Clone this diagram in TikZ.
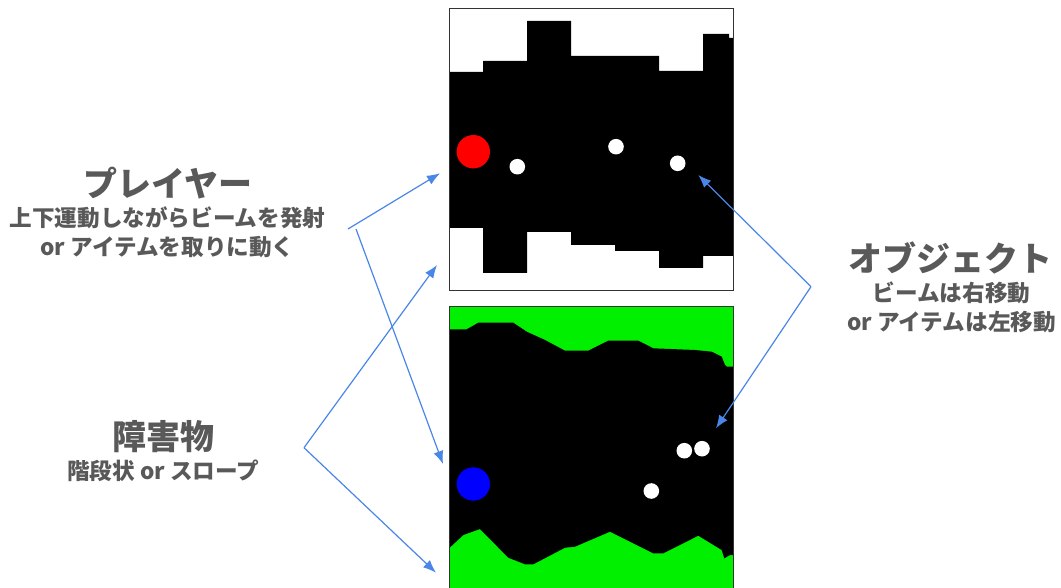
\documentclass[tikz,border=0pt]{standalone}
\usepackage{fontspec}
\setmainfont{Noto Sans CJK JP}
\usetikzlibrary{arrows.meta}
\definecolor{labelgray}{HTML}{595959}
\definecolor{arrowblue}{HTML}{4A86E8}
\definecolor{wallgreen}{HTML}{00F000}
\definecolor{framegray}{HTML}{333333}
\tikzset{
  title/.style={text=labelgray, font=\fontsize{34}{37}\selectfont\bfseries, inner sep=0pt},
  caption/.style={text=labelgray, font=\fontsize{22.6}{28.5}\selectfont\bfseries, align=center, inner sep=0pt},
  pointer/.style={draw=arrowblue, line width=1.2pt, -{Latex[length=13pt,width=10pt]}},
  frame/.style={draw=framegray, line width=1pt},
  shot/.style={fill=white},
}
\begin{document}
\begin{tikzpicture}[x=1pt,y=-1pt]
\useasboundingbox (0,0) rectangle (1061,588);
\clip (0,0) rectangle (1061,588);

% --- upper screen: stepped walls ---
\fill[white] (449,9) rectangle (733,291);
\fill[black] (449,72) -- (483,72) -- (483,61) -- (527,61) -- (527,21) -- (571,21)
  -- (571,56) -- (659,56) -- (659,71) -- (703,71) -- (703,34) -- (729,34) -- (729,38)
  -- (733,38) -- (733,256) -- (703,256) -- (703,268) -- (659,268) -- (659,251)
  -- (615,251) -- (615,245) -- (571,245) -- (571,232) -- (527,232) -- (527,273)
  -- (483,273) -- (483,228) -- (449,228) -- cycle;
\fill[red] (473.3,151.7) circle (16.7);
\fill[shot] (517.3,166.7) circle (7.8);
\fill[shot] (616,146.7) circle (7.8);
\fill[shot] (677.7,163.3) circle (7.8);
\draw[frame] (449,9) rectangle (733,291);

% --- lower screen: sloped walls ---
\fill[wallgreen] (449,307) rectangle (733,600);
\fill[black] (449,329.3) -- (466.7,329.3) -- (478.3,322.7) -- (513.3,322.7)
  -- (526.7,331.7) -- (545,340) -- (565,350.7) -- (588.3,350.7) -- (608.3,340.7)
  -- (638.3,340.7) -- (653.3,348.3) -- (695,350) -- (711.7,351.7) -- (721.7,356.7)
  -- (725,365) -- (726.7,366.7) -- (733,366.7)
  -- (733,555) -- (730,555) -- (724.3,558.3) -- (721.7,550) -- (698.3,535.7)
  -- (663.3,553.3) -- (653.3,553.3) -- (610,531.7) -- (575,546.7) -- (565,547.7)
  -- (533.3,564.3) -- (525,564.3) -- (508.3,557.7) -- (480,529) -- (463.3,535)
  -- (449,548.3) -- cycle;
\fill[blue] (473.3,484) circle (16.7);
\fill[shot] (684.3,450.7) circle (7.8);
\fill[shot] (702,448.7) circle (7.8);
\fill[shot] (651.3,491) circle (7.8);
\draw[frame] (449,307) -- (449,600);
\draw[frame] (449,307) -- (733,307) -- (733,600);

% --- labels ---
\node[title] (playerT) at (168,183) {プレイヤー};
\node[caption] (playerC) at (167.5,232.5) {上下運動しながらビームを発射\\or アイテムを取りに動く};
\node[title] (wallT) at (163,437) {障害物};
\node[caption] (wallC) at (163.3,470.7) {階段状 or スロープ};
\node[title] (objT) at (950,258) {オブジェクト};
\node[caption] (objC) at (951.5,307.5) {ビームは右移動\\or アイテムは左移動};

% --- pointer anchors ---
\coordinate (pA) at (348,229);
\coordinate (pB) at (356,229);
\coordinate (wA) at (304,447.7);
\coordinate (oA) at (811,286.7);
\coordinate (toPlayerTop) at (440,173.3);
\coordinate (toPlayerBot) at (443,464);
\coordinate (toWallTop) at (437,265);
\coordinate (toWallBot) at (436,572.7);
\coordinate (toObjTop) at (698.3,175);
\coordinate (toObjBot) at (716,428.3);

\draw[pointer] (pA) -- (toPlayerTop);
\draw[pointer] (pB) -- (toPlayerBot);
\draw[pointer] (wA) -- (toWallTop);
\draw[pointer] (wA) -- (toWallBot);
\draw[pointer] (oA) -- (toObjTop);
\draw[pointer] (oA) -- (toObjBot);
\end{tikzpicture}
\end{document}
